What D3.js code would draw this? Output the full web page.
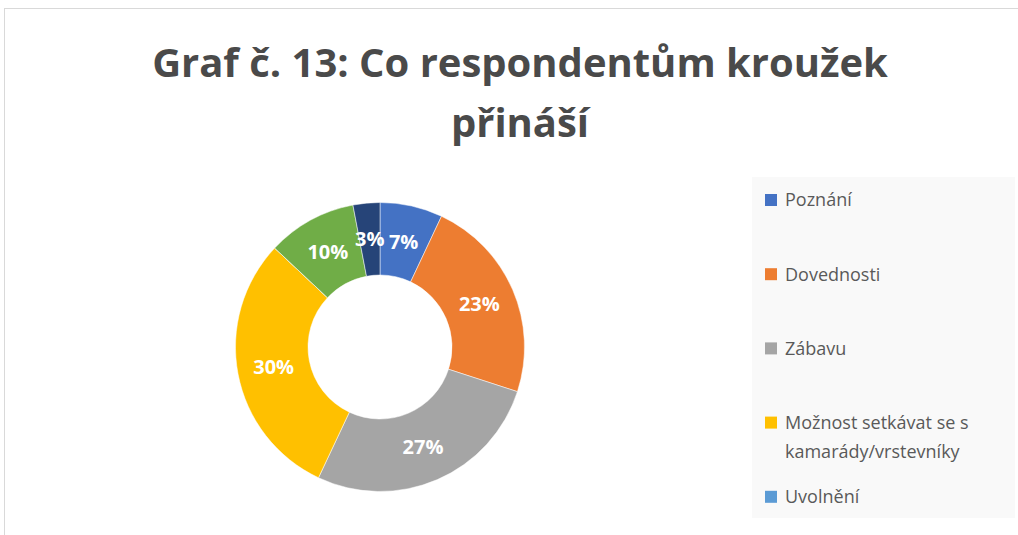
<!DOCTYPE html>
<html>
<head>
<meta charset="utf-8">
<script src="https://cdn.jsdelivr.net/npm/d3@7"></script>
<style>
  body { margin: 0; background: #fff; }
  svg { display: block; font-family: "Open Sans", sans-serif; }
</style>
</head>
<body>
<div id="chart"></div>
<script>
// chart data
const categories = ["Poznání", "Dovednosti", "Zábavu", "Možnost setkávat se s kamarády/vrstevníky", "Uvolnění", "Seberealizaci", "Jiné"];
const values = [7, 23, 27, 30, 0, 10, 3];
const colors = ["#4472C4", "#ED7D31", "#A5A5A5", "#FFC000", "#5B9BD5", "#70AD47", "#264478"];
const titleLines = ["Graf č. 13: Co respondentům kroužek", "přináší"];

const width = 1018, height = 535;
const data = categories.map((c, i) => ({ name: c, value: values[i], color: colors[i] }));

const svg = d3.select("#chart").append("svg")
  .attr("width", width)
  .attr("height", height);

// chart frame
svg.append("rect")
  .attr("x", 4.5).attr("y", 8.5)
  .attr("width", width + 10).attr("height", height + 10)
  .attr("fill", "#fff")
  .attr("stroke", "#d9d9d9");

// title
const title = svg.append("text")
  .attr("text-anchor", "middle")
  .attr("fill", "#4a4a4a")
  .attr("font-weight", "bold")
  .attr("font-size", 40);
titleLines.forEach((t, i) => {
  title.append("tspan").attr("x", 520).attr("y", 77 + i * 60).text(t);
});
// fit first line to the width of the original
const w0 = title.select("tspan").node().getComputedTextLength();
title.attr("font-size", 40 * 736 / w0);

// donut
const cx = 380, cy = 347, outerR = 144.5, innerR = 72;
const pie = d3.pie().sort(null).value(d => d.value);
const arc = d3.arc().innerRadius(innerR).outerRadius(outerR);
const labelArc = d3.arc().innerRadius((innerR + outerR) / 2).outerRadius((innerR + outerR) / 2);

const g = svg.append("g").attr("transform", `translate(${cx},${cy})`);
const arcs = pie(data);

g.selectAll("path")
  .data(arcs)
  .enter()
  .append("path")
  .attr("d", arc)
  .attr("fill", d => d.data.color)
  .attr("stroke", "#fff")
  .attr("stroke-width", 0.5);

g.selectAll(".lbl")
  .data(arcs.filter(d => d.data.value > 0))
  .enter()
  .append("text")
  .attr("class", "lbl")
  .attr("transform", d => `translate(${labelArc.centroid(d)})`)
  .attr("text-anchor", "middle")
  .attr("dy", "0.36em")
  .attr("fill", "#fff")
  .attr("font-weight", "bold")
  .attr("font-size", 20)
  .text(d => d.data.value + "%");

// legend box (the original only has room for the first entries)
const lx = 752, ly = 177, lw = 263, lh = 341;
const ly0 = 200, rowStep = 74.2;
const shown = data.filter((d, i) => ly0 + i * rowStep < ly + lh);

const legend = svg.append("g");
legend.append("rect")
  .attr("x", lx).attr("y", ly).attr("width", lw).attr("height", lh)
  .attr("fill", "#f9f9f9");

const items = legend.selectAll(".item")
  .data(shown)
  .enter()
  .append("g")
  .attr("class", "item")
  .attr("transform", (d, i) => `translate(${lx},${ly0 + i * rowStep})`);

items.append("rect")
  .attr("x", 13).attr("y", -6)
  .attr("width", 12).attr("height", 12)
  .attr("fill", d => d.color);

items.append("text")
  .attr("x", 33)
  .attr("y", 0)
  .attr("dy", "0.35em")
  .attr("fill", "#595959")
  .attr("font-size", 18)
  .text(d => d.name)
  .call(wrap, 222);

// wraps the legend labels
function wrap(text, width) {
  text.each(function () {
    const text = d3.select(this);
    const words = text.text().split(/\s+/).reverse();
    const x = text.attr("x");
    let word, line = [];
    let tspan = text.text(null).append("tspan").attr("x", x).attr("dy", "0.35em");
    while ((word = words.pop())) {
      line.push(word);
      tspan.text(line.join(" "));
      if (tspan.node().getComputedTextLength() > width && line.length > 1) {
        line.pop();
        tspan.text(line.join(" "));
        line = [word];
        tspan = text.append("tspan").attr("x", x).attr("dy", "1.6em").text(word);
      }
    }
  });
}
</script>
</body>
</html>
